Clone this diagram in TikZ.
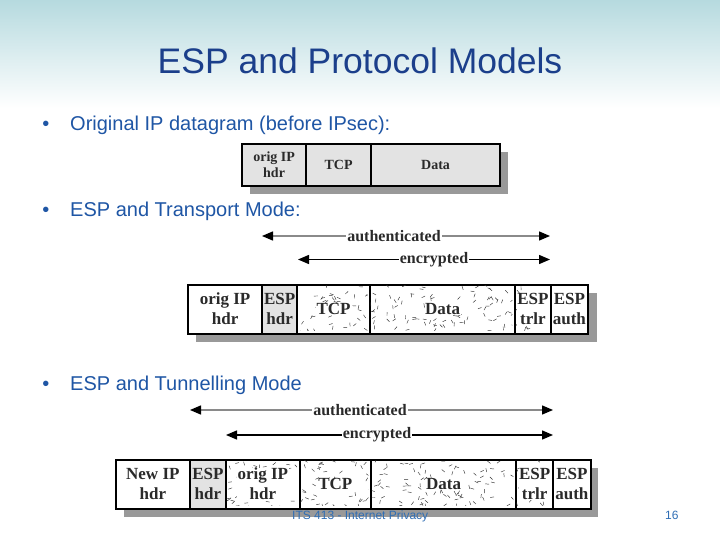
\documentclass[tikz,border=0pt]{standalone}
\usepackage{fontspec}
\setmainfont{Liberation Sans}
\newfontfamily\fieldfont{Liberation Serif}
\usetikzlibrary{arrows.meta}
\definecolor{titleblue}{HTML}{1B3F8B}
\definecolor{bulletblue}{HTML}{1F56A5}
\definecolor{footblue}{HTML}{2F6EB5}
\definecolor{topteal}{HTML}{B6DADF}
\definecolor{shadowgray}{HTML}{999999}
\definecolor{cellgray}{HTML}{E3E3E3}
\definecolor{fieldtext}{HTML}{2A2A2A}
\definecolor{authgray}{HTML}{8A8A8A}
\tikzset{
  cellbox/.style={draw=black, line width=2.2pt, inner sep=0pt, anchor=north west, fill=white},
  graycell/.style={cellbox, fill=cellgray},
  ftext/.style={font=\fieldfont\bfseries\fontsize{17}{20}\selectfont, text=fieldtext, align=center, inner sep=0.5pt},
  ftextsmall/.style={font=\fieldfont\bfseries\fontsize{14}{16}\selectfont, text=fieldtext, align=center, inner sep=1pt},
  stext/.style={ftext, fill=white},
  shadowbox/.style={fill=shadowgray, draw=none},
  stipdash/.style={line width=0.45pt, black!80},
  arrline/.style={line width=1.4pt, {Triangle[length=11pt,width=9pt,color=black]}-{Triangle[length=11pt,width=9pt,color=black]}},
  authline/.style={arrline, draw=authgray},
  enline/.style={arrline, draw=black},
  arrlabel/.style={font=\fieldfont\bfseries\fontsize{16}{18}\selectfont, text=fieldtext, fill=white, inner sep=1pt},
  bullettext/.style={font=\fontsize{20}{24}\selectfont, text=bulletblue, anchor=base west, inner sep=0pt},
  bulletdot/.style={font=\fontsize{20}{24}\selectfont, text=bulletblue, anchor=base, inner sep=0pt},
  foottext/.style={font=\fontsize{12}{14}\selectfont, text=footblue, anchor=base west, inner sep=0pt}
}
\newcommand\stip[4]{%
  \begin{scope}
    \clip (#1+1.6,#2+1.6) rectangle (#3-1.6,#4-1.6);
    \pgfmathtruncatemacro\nst{(#3-#1)*(#4-#2)/70}
    \foreach \k in {1,...,\nst}{
      \pgfmathsetmacro\px{#1+rnd*(#3-#1)}
      \pgfmathsetmacro\py{#2+rnd*(#4-#2)}
      \pgfmathsetmacro\pa{rnd*180}
      \draw[stipdash] (\px,\py) -- ++(\pa:3.8);
    }
  \end{scope}}
\begin{document}
\begin{tikzpicture}[x=1pt,y=-1pt]
\pgfmathsetseed{4213}
\useasboundingbox (0,0) rectangle (720,540);
\fill[white] (0,0) rectangle (720,540);
\shade[top color=topteal, bottom color=white] (0,0) rectangle (720,108);

% title
\node[font=\fontsize{35.5}{40}\selectfont, text=titleblue, inner sep=0pt, anchor=base] (title) at (360,74) {ESP and Protocol Models};

% bullets
\node[bulletdot] (b1) at (46,131) {•};
\node[bullettext] (t1) at (70,131) {Original IP datagram (before IPsec):};
\node[bulletdot] (b2) at (46,217) {•};
\node[bullettext] (t2) at (70,217) {ESP and Transport Mode:};
\node[bulletdot] (b3) at (46,390) {•};
\node[bullettext] (t3) at (70,390) {ESP and Tunnelling Mode};

% ---------- original datagram ----------
\fill[shadowbox] (250,152) rectangle (508,194);
\node[graycell, minimum width=64pt, minimum height=42pt] (o1) at (241,143) {};
\node[graycell, minimum width=65pt, minimum height=42pt] (o2) at (305,143) {};
\node[graycell, minimum width=129pt, minimum height=42pt] (o3) at (370,143) {};
\node[ftextsmall] (o1t) at (o1.center) {orig IP\\hdr};
\node[ftextsmall] (o2t) at (o2.center) {TCP};
\node[ftextsmall] (o3t) at (o3.center) {Data};

% ---------- transport mode ----------
\coordinate (ta1) at (262,236);
\coordinate (ta2) at (550,236);
\draw[authline] (ta1) -- (ta2);
\node[arrlabel] (tal) at (394,236) {authenticated};
\coordinate (te1) at (298,259.5);
\coordinate (te2) at (550,259.5);
\draw[enline] (te1) -- (te2);
\node[arrlabel] (tel) at (434,259.5) {encrypted};

\fill[shadowbox] (196,292.5) rectangle (597,342);
\node[cellbox, minimum width=74pt, minimum height=49pt] (p1) at (187,283.5) {};
\node[graycell, minimum width=35pt, minimum height=49pt] (p2) at (261,283.5) {};
\node[cellbox, minimum width=73pt, minimum height=49pt] (p3) at (296,283.5) {};
\node[cellbox, minimum width=145pt, minimum height=49pt] (p4) at (369,283.5) {};
\node[cellbox, minimum width=35.5pt, minimum height=49pt] (p5) at (514,283.5) {};
\node[cellbox, minimum width=37.5pt, minimum height=49pt] (p6) at (549.5,283.5) {};
\stip{296}{283.5}{369}{332.5}
\stip{369}{283.5}{514}{332.5}
\stip{514}{283.5}{549.5}{332.5}
\node[ftext] (p1t) at (p1.center) {orig IP\\hdr};
\node[ftext] (p2t) at (p2.center) {ESP\\hdr};
\node[stext] (p3t) at (p3.center) {TCP};
\node[stext] (p4t) at (p4.center) {Data};
\node[stext] (p5t) at (p5.center) {ESP\\trlr};
\node[ftext] (p6t) at (p6.center) {ESP\\auth};

% ---------- tunnel mode ----------
\coordinate (ua1) at (190,410);
\coordinate (ua2) at (553,410);
\draw[authline] (ua1) -- (ua2);
\node[arrlabel] (ual) at (360,410) {authenticated};
\coordinate (ue1) at (226,435);
\coordinate (ue2) at (553,435);
\draw[enline] (ue1) -- (ue2);
\node[arrlabel] (uel) at (377,435) {encrypted};

\fill[shadowbox] (124,467.5) rectangle (598,517);
\node[cellbox, minimum width=73.5pt, minimum height=49pt] (q1) at (115,458.5) {};
\node[graycell, minimum width=36.5pt, minimum height=49pt] (q2) at (188.5,458.5) {};
\node[cellbox, minimum width=73.5pt, minimum height=49pt] (q3) at (225,458.5) {};
\node[cellbox, minimum width=71.5pt, minimum height=49pt] (q4) at (298.5,458.5) {};
\node[cellbox, minimum width=145pt, minimum height=49pt] (q5) at (370,458.5) {};
\node[cellbox, minimum width=37pt, minimum height=49pt] (q6) at (515,458.5) {};
\node[cellbox, minimum width=37.5pt, minimum height=49pt] (q7) at (552,458.5) {};
\stip{225}{458.5}{298.5}{507.5}
\stip{298.5}{458.5}{370}{507.5}
\stip{370}{458.5}{515}{507.5}
\stip{515}{458.5}{552}{507.5}
\node[ftext] (q1t) at (q1.center) {New IP\\hdr};
\node[ftext] (q2t) at (q2.center) {ESP\\hdr};
\node[stext] (q3t) at (q3.center) {orig IP\\hdr};
\node[stext] (q4t) at (q4.center) {TCP};
\node[stext] (q5t) at (q5.center) {Data};
\node[stext] (q6t) at (q6.center) {ESP\\trlr};
\node[ftext] (q7t) at (q7.center) {ESP\\auth};

% footer
\node[foottext] (foot) at (292,519) {ITS 413 - Internet Privacy};
\node[foottext] (page) at (665,519) {16};
\end{tikzpicture}
\end{document}
